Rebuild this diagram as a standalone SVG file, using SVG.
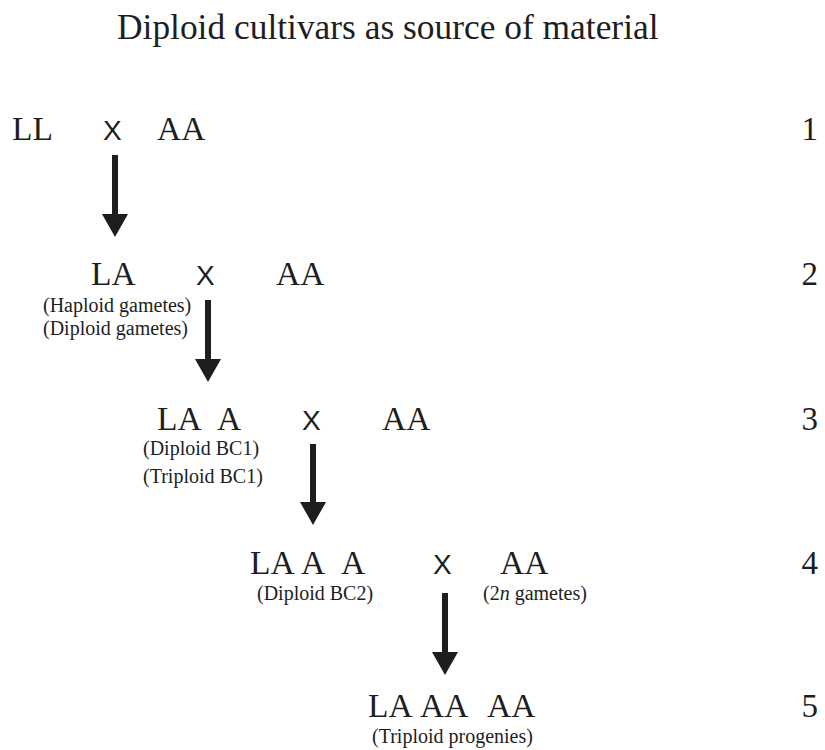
<svg xmlns="http://www.w3.org/2000/svg" width="825" height="750" viewBox="0 0 825 750">
<style>
text{fill:#1e1e1e;font-family:"Liberation Serif","Times New Roman",serif}
.t{font-size:35.4px}
.g{font-size:33.5px}
.x{font-family:"Liberation Sans",Arial,sans-serif;font-size:28px}
.s{font-size:20px}
.n{font-size:33px;text-anchor:end}
.c{stroke:#1e1e1e;stroke-width:6;fill:none}
</style>
<defs>
<marker id="ah" viewBox="0 0 23 26" refX="0" refY="13" markerWidth="23" markerHeight="26" markerUnits="userSpaceOnUse" orient="auto">
<path d="M0,0 L23,13 L0,26 Z" fill="#1e1e1e"/>
</marker>
</defs>
<rect width="825" height="750" fill="#fff"/>
<text id="title" class="t" x="117" y="39">Diploid cultivars as source of material</text>
<g id="row1">
<text class="g" x="12" y="140">LL</text>
<text class="x" x="103" y="140">X</text>
<text class="g" x="157" y="140">AA</text>
<text class="n" x="818" y="140">1</text>
</g>
<g id="row2">
<text class="g" x="91" y="285">LA</text>
<text class="x" x="196" y="285">X</text>
<text class="g" x="276" y="285">AA</text>
<text class="s" x="43" y="312">(Haploid gametes)</text>
<text class="s" x="43" y="335">(Diploid gametes)</text>
<text class="n" x="818" y="285">2</text>
</g>
<g id="row3">
<text class="g" y="430"><tspan x="157">LA</tspan> <tspan x="217">A</tspan></text>
<text class="x" x="302" y="430">X</text>
<text class="g" x="382" y="430">AA</text>
<text class="s" x="143" y="455">(Diploid BC1)</text>
<text class="s" x="143" y="483">(Triploid BC1)</text>
<text class="n" x="818" y="430">3</text>
</g>
<g id="row4">
<text class="g" y="574"><tspan x="250">LA</tspan><tspan x="301">A</tspan> <tspan x="341">A</tspan></text>
<text class="x" x="433" y="574">X</text>
<text class="g" x="500" y="574">AA</text>
<text class="s" x="257" y="600">(Diploid BC2)</text>
<text class="s" x="483" y="600">(2<tspan font-style="italic">n</tspan> gametes)</text>
<text class="n" x="818" y="574">4</text>
</g>
<g id="row5">
<text class="g" y="717"><tspan x="368">LA</tspan><tspan x="420">AA</tspan> <tspan x="487">AA</tspan></text>
<text class="s" x="372" y="743">(Triploid progenies)</text>
<text class="n" x="818" y="717">5</text>
</g>
<g id="connectors">
<line class="c" x1="115" y1="155" x2="115" y2="214" marker-end="url(#ah)"/>
<line class="c" x1="208" y1="300" x2="208" y2="359" marker-end="url(#ah)"/>
<line class="c" x1="313" y1="444" x2="313" y2="502" marker-end="url(#ah)"/>
<line class="c" x1="445" y1="593" x2="445" y2="652" marker-end="url(#ah)"/>
</g>
</svg>
